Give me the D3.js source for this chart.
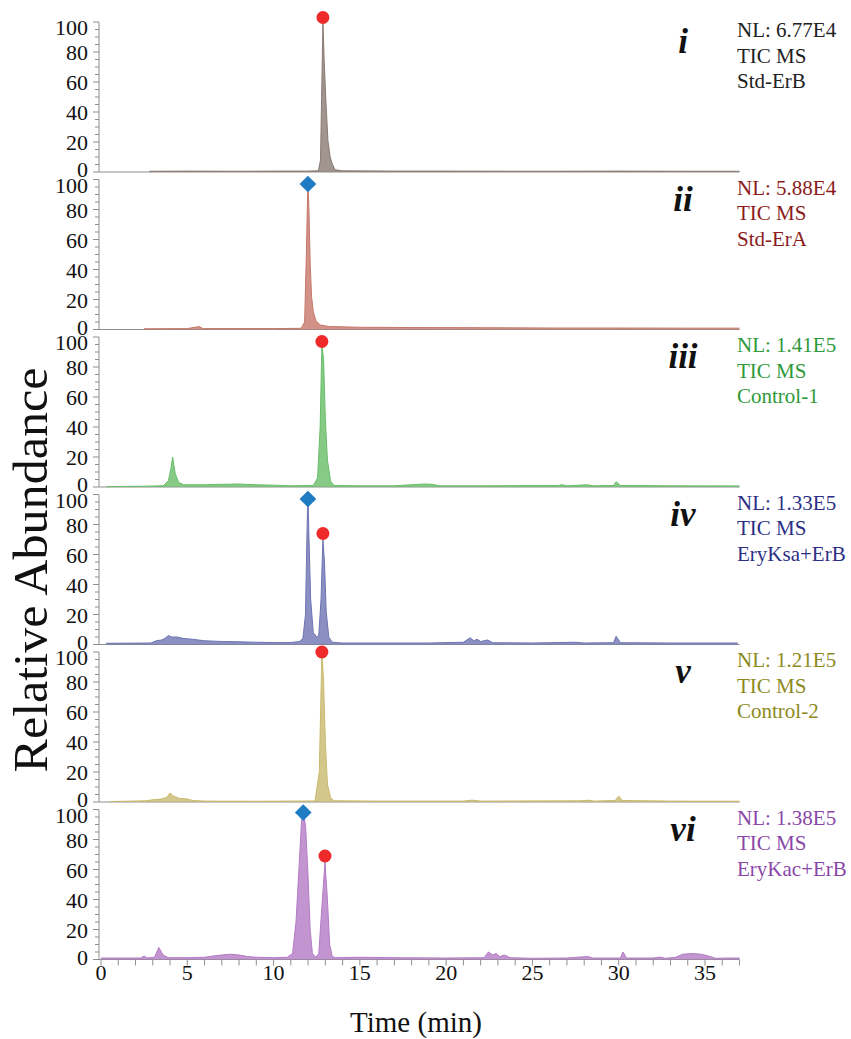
<!DOCTYPE html>
<html>
<head>
<meta charset="utf-8">
<script src="https://cdn.jsdelivr.net/npm/d3@7"></script>
<style>
  html, body { margin: 0; padding: 0; background: #fff; }
  text { font-family: "Liberation Serif", "Times New Roman", serif; }
  .tick-lbl { font-size: 22px; fill: #111; }
  .ax-title { font-size: 29px; fill: #111; }
  .ax-title-y { font-size: 48px; fill: #111; }
  .roman { font-size: 35px; font-weight: bold; font-style: italic; fill: #111; }
  .side { font-size: 21px; }
</style>
</head>
<body>
<div id="chart"></div>
<script>
/* six stacked TIC chromatograms, relative abundance vs retention time */

const PANEL_IDS = ['i', 'ii', 'iii', 'iv', 'v', 'vi'];
const NL_VALUES = ['NL: 6.77E4', 'NL: 5.88E4', 'NL: 1.41E5', 'NL: 1.33E5', 'NL: 1.21E5', 'NL: 1.38E5'];
const SAMPLES = ['Std-ErB', 'Std-ErA', 'Control-1', 'EryKsa+ErB', 'Control-2', 'EryKac+ErB'];
const TIME_TICKS = [0, 5, 10, 15, 20, 25, 30, 35];
const ABUND_TICKS = [0, 20, 40, 60, 80, 100];

/* [time (min), relative abundance] */
const TRACE_I = [[2.8,0.5],[5,0.6],[8,0.5],[10,0.6],[12,0.6],[12.6,0.8],[12.72,8],[12.8,60],[12.86,100],[12.93,75],
  [13.03,48],[13.15,21],[13.28,10],[13.38,6],[13.56,1.5],[14,0.8],[17,0.6],[20,0.6],[25,0.5],[30,0.6],[34,0.5],[37,0.5]];
const TRACE_II = [[2.5,0.5],[5,0.6],[5.7,2],[5.9,0.6],[8,0.6],[10,0.6],[11.6,0.8],[11.8,5],[11.9,50],[11.99,100],[12.05,80],
  [12.12,45],[12.2,22],[12.3,12],[12.45,6],[12.7,3],[13.2,2],[15,1.5],[18,1.3],[22,1.2],[26,1],[30,1],[34,0.9],[37,0.9]];
const TRACE_III = [[0.3,0.3],[2.5,0.5],[3.6,0.8],[3.9,4],[4.05,12],[4.15,20],[4.3,9],[4.5,3],[4.8,1.5],[6,1.5],[7,1.8],[8,2],
  [9,1.5],[10,1.2],[11,0.8],[12.3,1],[12.55,6],[12.7,40],[12.8,95],[12.9,85],[13.0,45],[13.12,18],[13.3,4],[13.5,1],[15,0.8],
  [17,0.8],[18.7,2],[19.2,1.8],[19.6,0.8],[22,0.8],[26.5,1],[26.7,1.5],[27,0.8],[28.2,1.5],[28.5,0.8],[29.7,1],[29.85,3.5],
  [30.1,1],[33,0.8],[37,0.7]];
const TRACE_IV = [[0.3,0.8],[2.9,1],[3.2,2.5],[3.5,3],[3.7,4],[3.9,6],[4.1,5],[4.4,5],[4.8,4],[5.3,3.5],[6,2.5],[7,2],[8,1.8],
  [9,1.5],[10,1.3],[11,1.3],[11.5,2],[11.7,4],[11.85,20],[11.94,76],[11.99,100],[12.05,72],[12.15,30],[12.3,8],[12.5,5],
  [12.62,6],[12.75,30],[12.86,70],[12.95,55],[13.05,22],[13.2,5],[13.4,1.5],[14,1],[16,1],[19,1],[21,1.5],[21.4,4.5],
  [21.6,2.5],[21.8,3.5],[22,2],[22.4,3],[22.7,1.2],[25,1],[27.5,1.5],[28,1],[29.7,1.2],[29.85,5.5],[30.1,1.2],[33,1],[36.9,1]];
const TRACE_V = [[0.5,0.3],[2.6,0.8],[3,1.5],[3.5,2],[3.8,3],[4,6],[4.2,4],[4.5,2.5],[5,2],[5.3,1],[6,0.6],[9,0.5],[12.4,0.7],
  [12.65,20],[12.8,100],[12.9,80],[13.0,40],[13.12,12],[13.3,3],[13.5,0.8],[16,0.6],[21,0.6],[21.5,1.2],[22,0.6],[27.8,0.8],
  [28.2,1.2],[28.6,0.6],[29.8,1],[30.0,4],[30.2,1],[33,0.6],[37,0.5]];
const TRACE_VI = [[0,1],[2.3,1],[2.5,2.2],[2.7,1],[3.1,1.5],[3.35,8],[3.6,3],[3.9,1.2],[5,1.2],[6,1.5],[6.6,2.5],[7,3],[7.5,3.5],
  [8,3],[8.5,2],[9,1.5],[10,1.2],[10.8,1.5],[11.1,4],[11.3,25],[11.48,62],[11.62,92],[11.72,100],[11.86,88],[12.0,55],
  [12.12,20],[12.25,4],[12.45,1.5],[12.62,4],[12.8,35],[12.98,65],[13.12,40],[13.25,10],[13.4,2],[13.6,1.2],[15,1.5],[17,1.2],
  [20,1],[22.2,1.2],[22.45,5],[22.7,3],[22.9,4],[23.1,2],[23.4,3],[23.7,1.2],[25,0.8],[27,1],[28.2,2],[28.5,1],[30.1,1],
  [30.25,5],[30.45,1],[32,1],[32.4,1.6],[32.7,0.8],[33.3,1.5],[33.7,3.5],[34.2,4],[34.8,3.5],[35.3,2],[35.6,0.8],[36.3,1],[37,1]];
const TRACES = [TRACE_I, TRACE_II, TRACE_III, TRACE_IV, TRACE_V, TRACE_VI];

/* peak markers: [panel index, time, abundance] */
const ERB_MARKS = [[0, 12.86, 103], [2, 12.8, 97], [3, 12.86, 74], [4, 12.8, 100], [5, 12.98, 69]];
const ERA_MARKS = [[1, 11.99, 97], [3, 11.99, 97], [5, 11.72, 98]];

const FILLS = ['#8a7a73', '#c7776a', '#68bd68', '#6e74b3', '#c9b96e', '#b37bc5'];
const INKS = ['#222222', '#8b1c1c', '#2f9a3a', '#2c2f85', '#8d8a1d', '#8a47a8'];
const RED = '#ee2a2a';
const BLUE = '#1f7cc2';
const AXIS = '#8f8f8f';

const W = 851, H = 1039;
const TOP = 22, PITCH = 157.5, PH = 150;

const svg = d3.select('#chart').append('svg').attr('width', W).attr('height', H);

const x = d3.scaleLinear().domain([0, 37]).range([101, 739.5]);

PANEL_IDS.forEach((id, k) => {
  const y0 = TOP + k * PITCH;
  const y = d3.scaleLinear().domain([0, 100]).range([y0 + PH, y0]);
  const g = svg.append('g');

  /* y axis with minor ticks every 5 */
  g.append('line').attr('x1', 99).attr('x2', 99).attr('y1', y(100)).attr('y2', y(0))
    .attr('stroke', AXIS).attr('stroke-width', 1);
  g.append('g').selectAll('line').data(d3.range(0, 101, 5)).join('line')
    .attr('x1', (d) => (d % 20 === 0 ? 93 : 95)).attr('x2', 99)
    .attr('y1', (d) => y(d)).attr('y2', (d) => y(d))
    .attr('stroke', AXIS).attr('stroke-width', 1);
  /* 100 sits a little below its tick and 0 a little above, as in the source */
  g.append('g').selectAll('text').data(ABUND_TICKS).join('text')
    .attr('class', 'tick-lbl')
    .attr('x', 88)
    .attr('y', (d) => y(d) + 8 + (d === 100 ? 5 : d === 0 ? -3 : 0))
    .attr('text-anchor', 'end')
    .text((d) => d);

  /* baseline */
  g.append('line').attr('x1', 99).attr('x2', x(37)).attr('y1', y(0)).attr('y2', y(0))
    .attr('stroke', AXIS).attr('stroke-width', 1);

  /* trace */
  const data = TRACES[k];
  const area = d3.area().x((d) => x(d[0])).y0(y(0)).y1((d) => y(d[1]));
  const line = d3.line().x((d) => x(d[0])).y((d) => y(d[1]));
  g.append('path').datum(data).attr('d', area)
    .attr('fill', FILLS[k]).attr('fill-opacity', 0.8);
  g.append('path').datum(data).attr('d', line)
    .attr('fill', 'none').attr('stroke', FILLS[k]).attr('stroke-width', 1);

  /* roman numeral + run info */
  g.append('text').attr('class', 'roman')
    .attr('x', 683).attr('y', y0 + 31).attr('text-anchor', 'middle').text(id);
  [NL_VALUES[k], 'TIC MS', SAMPLES[k]].forEach((s, j) => {
    g.append('text').attr('class', 'side').attr('fill', INKS[k])
      .attr('x', 737).attr('y', y0 + 15 + j * 25.5).text(s);
  });

  /* peak markers */
  ERB_MARKS.filter((m) => m[0] === k).forEach((m) => {
    g.append('circle').attr('cx', x(m[1])).attr('cy', y(m[2])).attr('r', 6.5).attr('fill', RED);
  });
  ERA_MARKS.filter((m) => m[0] === k).forEach((m) => {
    g.append('path').attr('d', d3.symbol(d3.symbolSquare, 140)())
      .attr('transform', `translate(${x(m[1])},${y(m[2])}) rotate(45)`)
      .attr('fill', BLUE);
  });

  /* time axis only under the last panel */
  if (k === PANEL_IDS.length - 1) {
    const base = y(0);
    g.append('g').selectAll('line').data(d3.range(0, 38, 1)).join('line')
      .attr('x1', (d) => x(d)).attr('x2', (d) => x(d))
      .attr('y1', base).attr('y2', base + 6)
      .attr('stroke', AXIS).attr('stroke-width', 1);
    g.append('g').selectAll('text').data(TIME_TICKS).join('text')
      .attr('class', 'tick-lbl')
      .attr('x', (d) => x(d)).attr('y', base + 20)
      .attr('text-anchor', 'middle')
      .text((d) => d);
  }
});

svg.append('text').attr('class', 'ax-title')
  .attr('x', 416).attr('y', 1032).attr('text-anchor', 'middle').text('Time (min)');
svg.append('text').attr('class', 'ax-title-y')
  .attr('transform', 'translate(47,570) rotate(-90)')
  .attr('text-anchor', 'middle')
  .attr('textLength', 405).attr('lengthAdjust', 'spacingAndGlyphs')
  .text('Relative Abundance');
</script>
</body>
</html>
